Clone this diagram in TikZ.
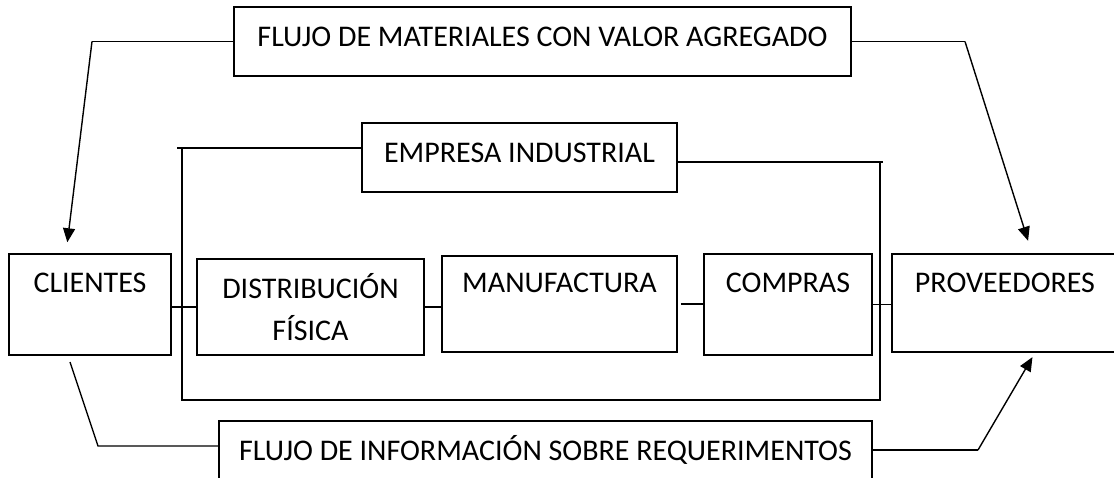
\documentclass[tikz,border=0pt]{standalone}
\usepackage{fontspec}
\setmainfont{Carlito}
\usepackage{tikz}
\usetikzlibrary{arrows.meta}

\begin{document}
\begin{tikzpicture}[
    x=1pt, y=-1pt,
    blk/.style={rectangle, draw, line width=1.6pt, inner sep=0pt, align=center, font=\fontsize{30}{42}\selectfont},
    flow/.style={line width=1.4pt},
    tip/.style={flow, -{Triangle[length=14pt,width=12pt]}}
]
    \useasboundingbox (0,0) rectangle (1114,478);

    \node[blk, minimum width=617pt, text height=40pt, text depth=29pt] (matflow) at (542.5,41.5) {FLUJO DE MATERIALES CON VALOR AGREGADO};
    \node[blk, minimum width=315pt, text height=40pt, text depth=29pt] (emp) at (519.5,157.5) {EMPRESA INDUSTRIAL};
    \node[blk, minimum width=162pt, text height=39pt, text depth=62pt] (cli) at (90,304.5) {CLIENTES};
    \node[blk, minimum width=227pt, minimum height=96pt] (dist) at (310.5,307) {DISTRIBUCIÓN\\FÍSICA};
    \node[blk, minimum width=235pt, text height=37pt, text depth=59pt] (manuf) at (559.5,304) {MANUFACTURA};
    \node[blk, minimum width=168pt, text height=39pt, text depth=62pt] (comp) at (788,304.5) {COMPRAS};
    \node[blk, minimum width=226pt, text height=39pt, text depth=59pt] (prov) at (1005,303) {PROVEEDORES};
    \node[blk, minimum width=653pt, text height=39pt, text depth=40pt] (infoflow) at (545.5,460.5) {FLUJO DE INFORMACIÓN SOBRE REQUERIMENTOS};

    \coordinate (mbendl) at (92,41.5);
    \coordinate (mbendr) at (965,41.5);
    \coordinate (cstart) at (70,362);
    \coordinate (ibendl) at (98,446);
    \coordinate (ibendr) at (978,450);
    \coordinate (fnw) at (182,148);
    \coordinate (fsw) at (182,400);
    \coordinate (fse) at (880,400);
    \coordinate (fne) at (880,162);

    \draw[flow] (matflow.west) -- (mbendl);
    \draw[tip, shorten >=11pt] (mbendl) -- ([xshift=-24pt]cli.north);
    \draw[flow] (matflow.east) -- (mbendr);
    \draw[tip, shorten >=13pt] (mbendr) -- ([xshift=27pt]prov.north);

    \draw[flow] (cstart) -- (ibendl) -- (ibendl -| infoflow.west);
    \draw[flow] (infoflow.east |- ibendr) -- (ibendr);
    \draw[tip, shorten >=5pt] (ibendr) -- ([xshift=30pt]prov.south);

    \draw[flow] ([xshift=-5pt]fnw) -- (fnw -| emp.west);
    \draw[flow] (fnw) -- (fsw) -- (fse) -- (fne);
    \draw[flow] (fne -| emp.east) -- ([xshift=3pt]fne);

    \draw[flow] (cli.east |- dist.west) -- (dist.west);
    \draw[flow] (dist.east) -- (dist.east -| manuf.west);
    \draw[flow] ([xshift=3pt]manuf.east) -- (manuf.east -| comp.west);
    \draw[flow] (comp.east) -- (comp.east -| prov.west);
\end{tikzpicture}
\end{document}
